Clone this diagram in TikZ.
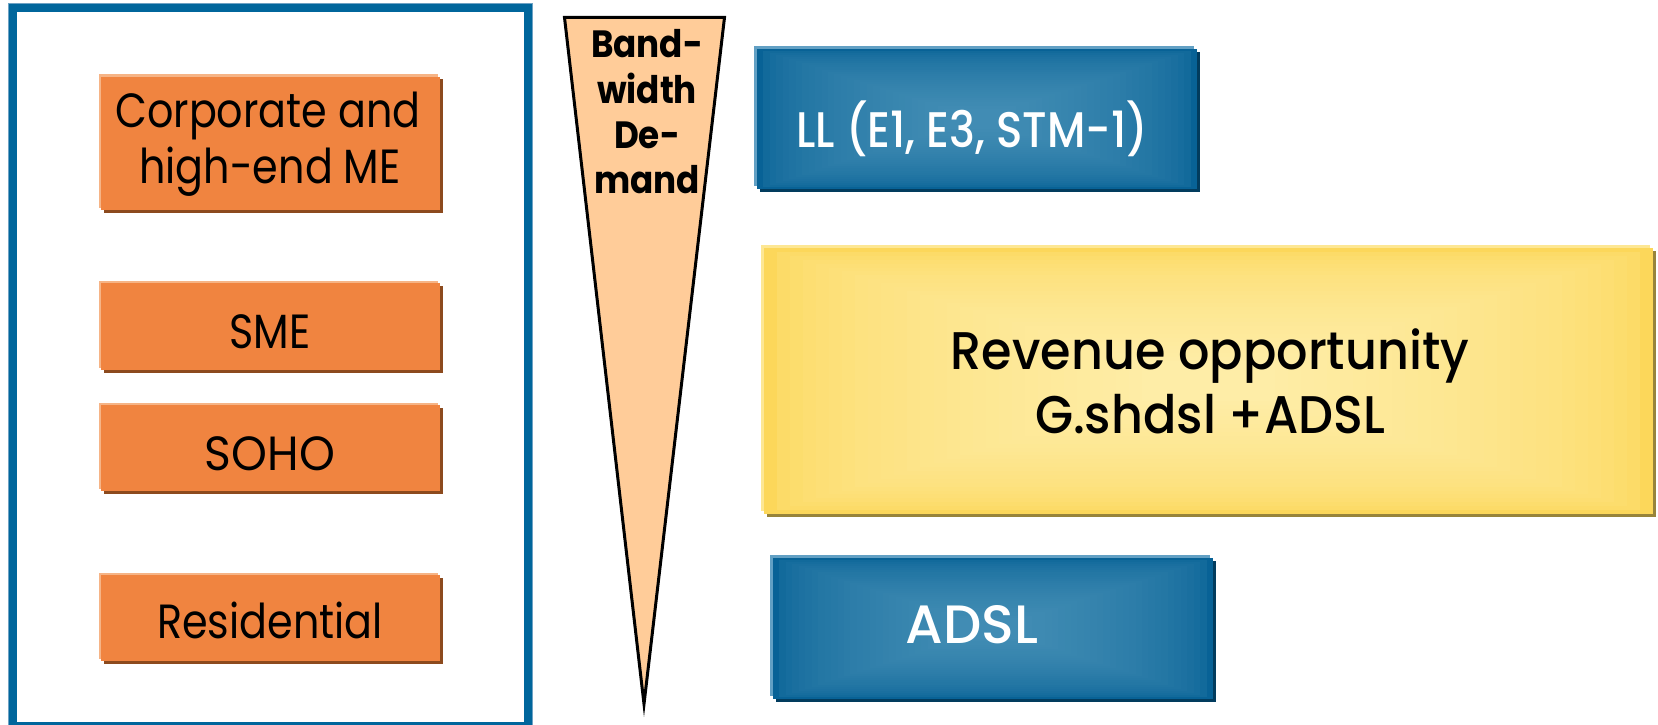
\documentclass[tikz,border=0pt]{standalone}
\usepackage{fontspec}
\setmainfont{Poppins}
\newfontfamily\geo[FakeStretch=0.86]{Poppins}
\newfontfamily\geomed{Poppins Medium}
\newfontfamily\geobold[FakeStretch=0.9]{Poppins Bold}

\definecolor{frameblue}{RGB}{0,102,156}
\definecolor{framelight}{RGB}{110,162,196}
\definecolor{orangefill}{RGB}{240,132,64}
\definecolor{orangelight}{RGB}{246,180,134}
\definecolor{orangeshadow}{RGB}{140,74,30}
\definecolor{peach}{RGB}{255,204,153}
\definecolor{blueouter}{RGB}{8,98,150}
\definecolor{blueinner}{RGB}{66,141,180}
\definecolor{bluelight}{RGB}{98,160,196}
\definecolor{blueshadow}{RGB}{2,60,94}
\definecolor{yellowouter}{RGB}{252,215,90}
\definecolor{yellowinner}{RGB}{254,237,168}
\definecolor{yellowlight}{RGB}{253,231,148}
\definecolor{yellowshadow}{RGB}{152,132,58}

% raised panel: shadow to the lower right, highlight to the upper left
% #1,#2 = top-left corner, #3,#4 = bottom-right corner, #5 highlight, #6 shadow, #7 offset
\newcommand\panelbase[7]{%
  \fill[#6] (#1+#7,#2+#7) rectangle (#3+#7,#4+#7);
  \fill[#5] (#1-#7,#2-#7) rectangle (#3-#7,#4-#7);
}
% rectangular gradient from the rim (#5) to the middle (#6)
\newcommand\gradpanel[6]{%
  \foreach \i in {0,...,29}{%
    \pgfmathsetmacro\tt{\i/30}%
    \pgfmathsetmacro\dx{\tt*(#3-#1)/2*0.88}%
    \pgfmathsetmacro\dy{\tt*(#4-#2)/2*0.88}%
    \pgfmathtruncatemacro\pc{100*sqrt(\tt)}%
    \fill[#6!\pc!#5] (#1+\dx,#2+\dy) rectangle (#3-\dx,#4-\dy);
  }%
}

\begin{document}
\begin{tikzpicture}[x=1pt,y=-1pt]
\tikzset{
  lbl/.style={anchor=base, inner sep=0pt, text=black},
  seglbl/.style={lbl, font=\geo\fontsize{48}{56}\selectfont},
  bwlbl/.style={lbl, font=\geobold\fontsize{38}{45}\selectfont},
  offerlbl/.style={lbl, font=\geomed\fontsize{53}{64}\selectfont\addfontfeatures{FakeStretch=0.93}},
}
\useasboundingbox (0,0) rectangle (1658,725);
\fill[white] (0,0) rectangle (1658,725);

% customer segment frame
\draw[framelight, line width=1pt] (8.5,3.5) rectangle (532.5,730.5);
\draw[frameblue, line width=8pt] (13,8) rectangle (528,726);

% customer segments
\panelbase{101}{77}{440}{210}{orangelight}{orangeshadow}{2.5}
\fill[orangefill] (101,77) rectangle (440,210);
\panelbase{101}{283}{440}{370}{orangelight}{orangeshadow}{2.5}
\fill[orangefill] (101,283) rectangle (440,370);
\panelbase{101}{405}{440}{491}{orangelight}{orangeshadow}{2.5}
\fill[orangefill] (101,405) rectangle (440,491);
\panelbase{101}{575}{440}{661}{orangelight}{orangeshadow}{2.5}
\fill[orangefill] (101,575) rectangle (440,661);

\node[seglbl] (corp1) at (268,127) {Corporate and};
\node[seglbl] (corp2) at (270,183) {high-end ME};
\node[seglbl] (sme) at (270,348) {SME};
\node[seglbl, font=\geo\fontsize{48}{56}\selectfont\addfontfeatures{FakeStretch=0.95}] (soho) at (270,470) {SOHO};
\node[seglbl] (resi) at (270,638) {Residential};

% bandwidth demand wedge
\draw[line width=3pt, fill=peach, line join=miter, miter limit=12]
  (564.5,17.5) -- (724.5,17.5) -- (644,704) -- cycle;
\node[bwlbl] (bw1) at (647,58) {Band-};
\node[bwlbl] (bw2) at (647,103) {width};
\node[bwlbl] (bw3) at (647,148) {De-};
\node[bwlbl] (bw4) at (647,193) {mand};

% leased lines
\panelbase{757}{49}{1197}{189}{bluelight}{blueshadow}{3}
\gradpanel{757}{49}{1197}{189}{blueouter}{blueinner}
\node[offerlbl, text=white, font=\geomed\fontsize{50}{56}\selectfont\addfontfeatures{FakeStretch=0.87}] (ll) at (972,147) {LL (E1, E3, STM-1)};

% revenue opportunity
\panelbase{764}{248}{1653}{514}{yellowlight}{yellowshadow}{3}
\gradpanel{764}{248}{1653}{514}{yellowouter}{yellowinner}
\node[offerlbl] (rev1) at (1210,369) {Revenue opportunity};
\node[offerlbl] (rev2) at (1210,433) {G.shdsl +ADSL};

% ADSL
\panelbase{773}{558}{1213}{699}{bluelight}{blueshadow}{3}
\gradpanel{773}{558}{1213}{699}{blueouter}{blueinner}
\node[offerlbl, text=white, font=\geomed\fontsize{54}{56}\selectfont] (adsl) at (972,643) {ADSL};
\end{tikzpicture}
\end{document}
